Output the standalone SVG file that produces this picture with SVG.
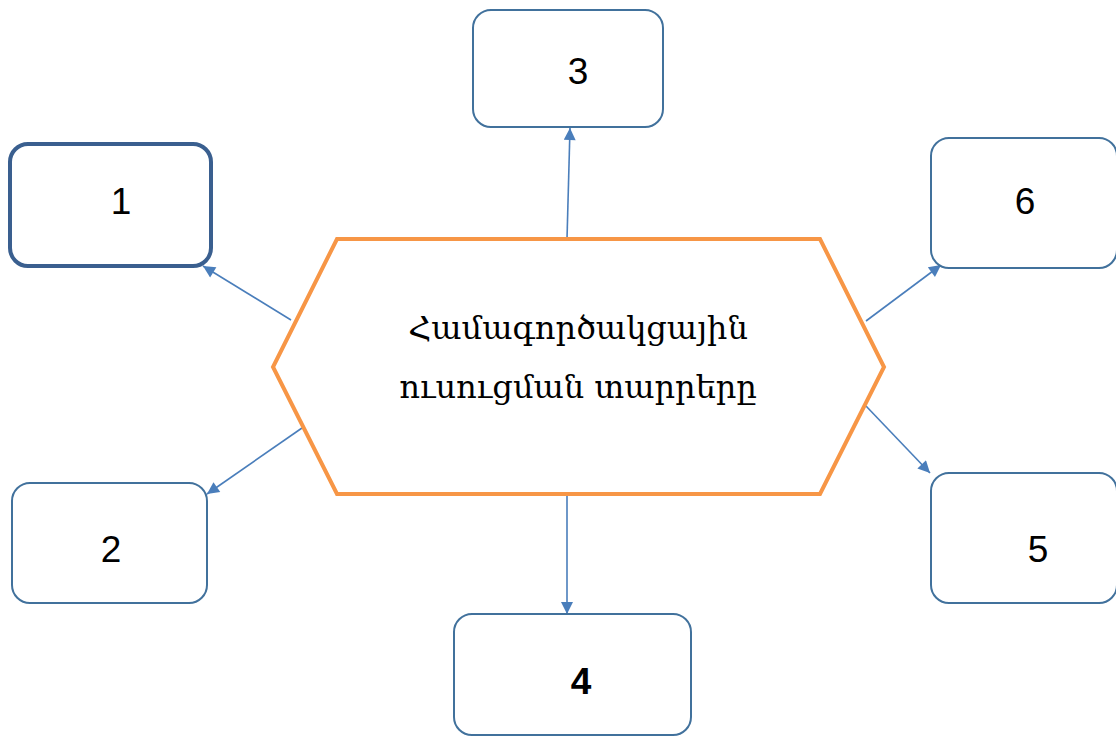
<svg xmlns="http://www.w3.org/2000/svg" width="1116" height="736" viewBox="0 0 1116 736">
<style>
.box{fill:#fff;stroke:#41719c;stroke-width:2}
.num{font-family:"Liberation Sans",Arial,sans-serif;font-size:37px;fill:#000;text-anchor:middle}
.conn{stroke:#4a7ebb;stroke-width:1.6;fill:none;marker-end:url(#ah)}
.mid{font-family:"DejaVu Serif","Noto Serif",serif;font-size:32px;fill:#000;text-anchor:middle}
</style>
<defs>
<marker id="ah" viewBox="0 0 10 10" refX="10" refY="5" markerWidth="14" markerHeight="12" markerUnits="userSpaceOnUse" orient="auto">
<path d="M0,0 L10,5 L0,10 z" fill="#4a7ebb"/>
</marker>
</defs>
<rect width="1116" height="736" fill="#fff"/>
<g id="connectors">
<line class="conn" x1="291" y1="320" x2="203" y2="266"/>
<line class="conn" x1="567" y1="239" x2="570" y2="128"/>
<line class="conn" x1="866" y1="321" x2="941" y2="265"/>
<line class="conn" x1="302" y1="428" x2="207" y2="494"/>
<line class="conn" x1="567" y1="494" x2="567" y2="614"/>
<line class="conn" x1="866" y1="406" x2="930" y2="473"/>
</g>
<g id="center">
<polygon points="337,239 820,239 884,367 820,494 337,494 273,367" fill="#fff" stroke="#f79646" stroke-width="4"/>
<text class="mid" x="578" y="339">Համագործակցային</text>
<text class="mid" x="578" y="398">ուսուցման տարրերը</text>
</g>
<g id="n1">
<rect x="10" y="144" width="201" height="122" rx="18" fill="#fff" stroke="#3a5f8f" stroke-width="4"/>
<text class="num" x="121" y="214">1</text>
</g>
<g id="n3">
<rect class="box" x="473" y="10" width="190" height="117" rx="18"/>
<text class="num" x="578" y="84">3</text>
</g>
<g id="n6">
<rect class="box" x="931" y="138" width="186" height="130" rx="18"/>
<text class="num" x="1025" y="214">6</text>
</g>
<g id="n2">
<rect class="box" x="12" y="483" width="195" height="120" rx="18"/>
<text class="num" x="111" y="562">2</text>
</g>
<g id="n5">
<rect class="box" x="931" y="473" width="186" height="130" rx="18"/>
<text class="num" x="1038" y="562">5</text>
</g>
<g id="n4">
<rect class="box" x="454" y="614" width="237" height="121" rx="18"/>
<text class="num" x="581" y="694" font-weight="bold">4</text>
</g>
</svg>
